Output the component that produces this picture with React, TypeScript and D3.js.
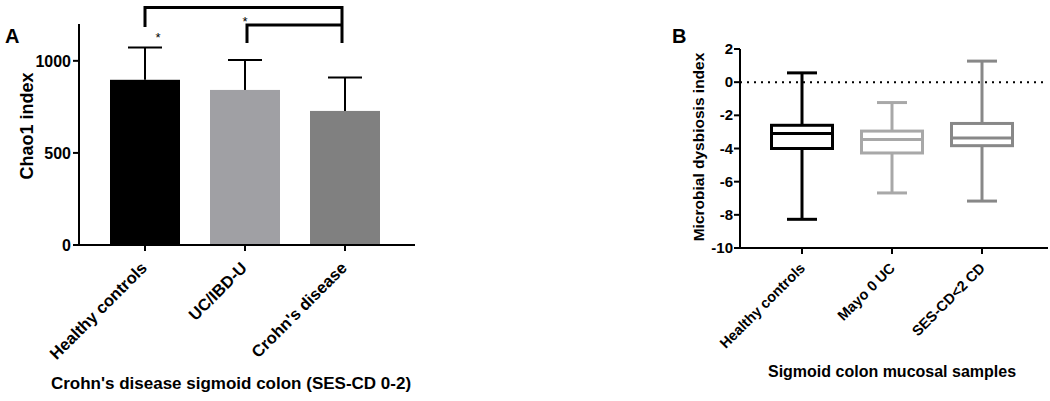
import React from "react";
import * as d3 from "d3";

const barCats = ["Healthy controls", "UC/IBD-U", "Crohn's disease"];
const barMeans = [897, 842, 728];
const barErrTop = [1072, 1004, 909];
const barColors = ["#000000", "#a0a0a4", "#808080"];
const aTicks = [0, 500, 1000];

const boxCats = ["Healthy controls", "Mayo 0 UC", "SES-CD<2 CD"];
const boxMin = [-8.27, -6.68, -7.17];
const boxQ1 = [-4.0, -4.27, -3.83];
const boxMed = [-3.1, -3.45, -3.37];
const boxQ3 = [-2.6, -2.95, -2.49];
const boxMax = [0.56, -1.23, 1.27];
const boxColors = ["#000000", "#a8a8a8", "#888888"];
const bTicks = [2, 0, -2, -4, -6, -8, -10];

const font = "'Liberation Sans', Arial, sans-serif";

export default function App() {
  // Panel A
  const ax0 = 79, ax1 = 415, ay0 = 245;
  const yA = d3.scaleLinear().domain([0, 1200]).range([ay0, ay0 - 221]);
  const xA = d3.scaleBand().domain(barCats).range([95, 395]).paddingInner(0.3).paddingOuter(0.15);
  const bwA = 70;
  const cxA = (c: string) => (xA(c) as number) + xA.bandwidth() / 2;

  // Panel B
  const bx0 = 740, bx1 = 1048;
  const yB = d3.scaleLinear().domain([-10, 2]).range([248, 49]);
  const xB = d3.scaleBand().domain(boxCats).range([757, 1027]).padding(0);
  const cxB = (c: string) => (xB(c) as number) + xB.bandwidth() / 2;
  const bwB = 61;
  const capW = 30;

  return (
    <svg width={1050} height={401} style={{ position: "absolute", left: 0, top: 0, display: "block", fontFamily: font }}>
      <rect x={0} y={0} width={1050} height={401} fill="#fff" />
      {/* Panel A */}
      <text x={5} y={43} fontSize={20} fontWeight="bold">A</text>
      <text transform={`translate(33,126) rotate(-90)`} textAnchor="middle" fontSize={18} fontWeight="bold">Chao1 index</text>
      {barCats.map((c, i) => (
        <g key={c}>
          <line x1={cxA(c)} x2={cxA(c)} y1={yA(barMeans[i])} y2={yA(barErrTop[i])} stroke="#000" strokeWidth={2} />
          <line x1={cxA(c) - 17} x2={cxA(c) + 17} y1={yA(barErrTop[i])} y2={yA(barErrTop[i])} stroke="#000" strokeWidth={2} />
          <rect x={cxA(c) - bwA / 2} y={yA(barMeans[i])} width={bwA} height={ay0 - yA(barMeans[i])} fill={barColors[i]} />
        </g>
      ))}
      <line x1={ax0} x2={ax0} y1={ay0 + 1} y2={yA(1200)} stroke="#000" strokeWidth={2} />
      <line x1={ax0 - 1} x2={ax1} y1={ay0} y2={ay0} stroke="#000" strokeWidth={2} />
      {aTicks.map((t) => (
        <g key={t}>
          <line x1={ax0 - 6} x2={ax0} y1={yA(t)} y2={yA(t)} stroke="#000" strokeWidth={2} />
          <text x={ax0 - 8} y={yA(t) + 6} textAnchor="end" fontSize={16} fontWeight="bold">{t}</text>
        </g>
      ))}
      {barCats.map((c) => (
        <g key={c}>
          <line x1={cxA(c)} x2={cxA(c)} y1={ay0} y2={ay0 + 6} stroke="#000" strokeWidth={2} />
          <text transform={`translate(${cxA(c) + 3},${ay0 + 24}) rotate(-45)`} textAnchor="end" fontSize={16.5} fontWeight="bold">{c}</text>
        </g>
      ))}
      <text x={231} y={389} textAnchor="middle" fontSize={17} fontWeight="bold">Crohn's disease sigmoid colon (SES-CD 0-2)</text>
      {/* significance brackets */}
      <path d={`M${cxA(barCats[0])},${27} V${7.5} H${cxA(barCats[2]) - 3} V${43}`} fill="none" stroke="#000" strokeWidth={3} />
      <path d={`M${cxA(barCats[1]) + 2},${43} V${25} H${cxA(barCats[2]) - 3}`} fill="none" stroke="#000" strokeWidth={3} />
      <text x={158} y={42} textAnchor="middle" fontSize={13} fill="#000">*</text>
      <text x={245} y={26} textAnchor="middle" fontSize={13} fill="#000">*</text>

      {/* Panel B */}
      <text x={672} y={43} fontSize={20} fontWeight="bold">B</text>
      <text transform={`translate(704,147) rotate(-90)`} textAnchor="middle" fontSize={15.5} fontWeight="bold">Microbial dysbiosis index</text>
      <line x1={bx0} x2={bx1} y1={yB(0)} y2={yB(0)} stroke="#000" strokeWidth={2} strokeDasharray="2,5" />
      {boxCats.map((c, i) => {
        const cx = cxB(c);
        const col = boxColors[i];
        return (
          <g key={c} stroke={col} strokeWidth={3} fill="none">
            <line x1={cx} x2={cx} y1={yB(boxMax[i])} y2={yB(boxQ3[i])} />
            <line x1={cx} x2={cx} y1={yB(boxQ1[i])} y2={yB(boxMin[i])} />
            <line x1={cx - capW / 2} x2={cx + capW / 2} y1={yB(boxMax[i])} y2={yB(boxMax[i])} />
            <line x1={cx - capW / 2} x2={cx + capW / 2} y1={yB(boxMin[i])} y2={yB(boxMin[i])} />
            <rect x={cx - bwB / 2} y={yB(boxQ3[i])} width={bwB} height={yB(boxQ1[i]) - yB(boxQ3[i])} fill="#fff" />
            <line x1={cx - bwB / 2} x2={cx + bwB / 2} y1={yB(boxMed[i])} y2={yB(boxMed[i])} />
          </g>
        );
      })}
      <line x1={bx0} x2={bx0} y1={yB(-10) + 1} y2={yB(2)} stroke="#000" strokeWidth={2} />
      <line x1={bx0 - 1} x2={bx1} y1={yB(-10)} y2={yB(-10)} stroke="#000" strokeWidth={2} />
      {bTicks.map((t) => (
        <g key={t}>
          <line x1={bx0 - 6} x2={bx0} y1={yB(t)} y2={yB(t)} stroke="#000" strokeWidth={2} />
          <text x={bx0 - 7} y={yB(t) + 5} textAnchor="end" fontSize={15} fontWeight="bold">{t}</text>
        </g>
      ))}
      {boxCats.map((c) => (
        <g key={c}>
          <line x1={cxB(c)} x2={cxB(c)} y1={yB(-10)} y2={yB(-10) + 6} stroke="#000" strokeWidth={2} />
          <text transform={`translate(${cxB(c) + 4},${yB(-10) + 21}) rotate(-45)`} textAnchor="end" fontSize={14.5} fontWeight="bold">{c}</text>
        </g>
      ))}
      <text x={892} y={377} textAnchor="middle" fontSize={16} fontWeight="bold">Sigmoid colon mucosal samples</text>
    </svg>
  );
}
